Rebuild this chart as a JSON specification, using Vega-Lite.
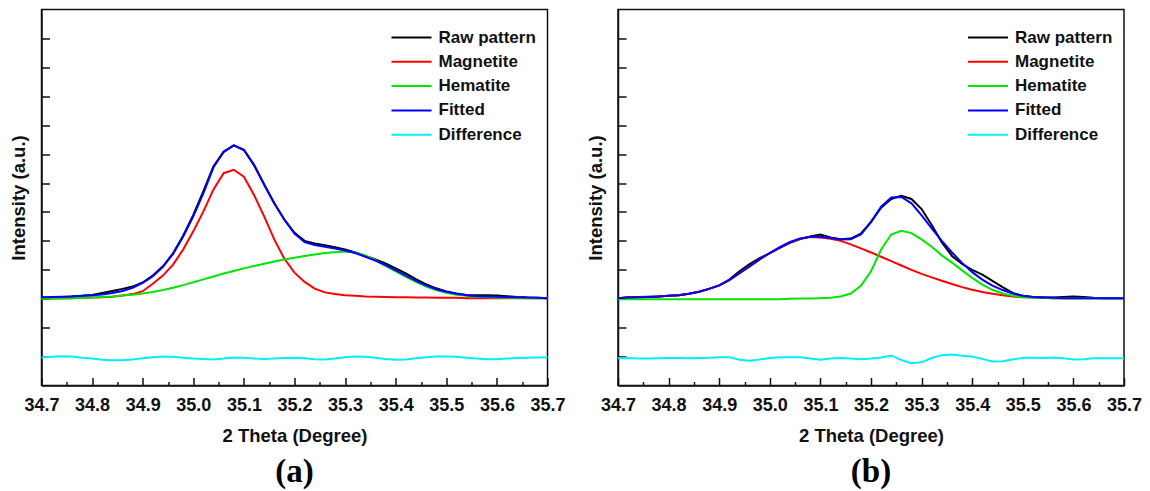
{
  "$schema": "https://vega.github.io/schema/vega-lite/v6.json",
  "background": "white",
  "padding": {"left": 8.5, "top": 8.5, "right": 0, "bottom": 0},
  "config": {
    "font": "Liberation Sans",
    "view": {"stroke": "#111111", "strokeWidth": 1.5},
    "axis": {"domainColor": "#111111", "domainWidth": 1.5, "tickColor": "#111111", "tickWidth": 1.5, "grid": false,
      "labelFont": "Liberation Sans", "labelFontWeight": "bold", "labelFontSize": 18, "labelColor": "#111111",
      "titleFont": "Liberation Sans", "titleFontWeight": "bold", "titleFontSize": 18.5, "titleColor": "#111111"},
    "legend": {"orient": "none", "legendX": 349, "legendY": 18, "symbolType": "stroke", "symbolSize": 1600, "symbolStrokeWidth": 2,
      "clipHeight": 20, "rowPadding": 4.3, "labelFont": "Liberation Sans", "labelFontSize": 17, "labelFontWeight": "bold",
      "labelColor": "#111111", "labelOffset": 6, "padding": 0},
    "line": {"strokeWidth": 2}
  },
  "datasets": {
    "a": [
      {"x":34.70,"Raw pattern":3.03,"Magnetite":3.01,"Hematite":3.00,"Fitted":3.05,"Difference":0.97},
      {"x":34.72,"Raw pattern":3.04,"Magnetite":3.01,"Hematite":3.01,"Fitted":3.06,"Difference":0.99},
      {"x":34.74,"Raw pattern":3.06,"Magnetite":3.02,"Hematite":3.01,"Fitted":3.07,"Difference":1.01},
      {"x":34.76,"Raw pattern":3.08,"Magnetite":3.02,"Hematite":3.02,"Fitted":3.08,"Difference":1.00},
      {"x":34.78,"Raw pattern":3.10,"Magnetite":3.03,"Hematite":3.03,"Fitted":3.10,"Difference":0.96},
      {"x":34.80,"Raw pattern":3.13,"Magnetite":3.04,"Hematite":3.04,"Fitted":3.12,"Difference":0.93},
      {"x":34.82,"Raw pattern":3.20,"Magnetite":3.05,"Hematite":3.06,"Fitted":3.15,"Difference":0.89},
      {"x":34.84,"Raw pattern":3.27,"Magnetite":3.07,"Hematite":3.08,"Fitted":3.20,"Difference":0.87},
      {"x":34.86,"Raw pattern":3.34,"Magnetite":3.11,"Hematite":3.11,"Fitted":3.27,"Difference":0.87},
      {"x":34.88,"Raw pattern":3.42,"Magnetite":3.16,"Hematite":3.14,"Fitted":3.38,"Difference":0.90},
      {"x":34.90,"Raw pattern":3.56,"Magnetite":3.26,"Hematite":3.18,"Fitted":3.55,"Difference":0.94},
      {"x":34.92,"Raw pattern":3.80,"Magnetite":3.52,"Hematite":3.23,"Fitted":3.78,"Difference":0.98},
      {"x":34.94,"Raw pattern":4.12,"Magnetite":3.80,"Hematite":3.30,"Fitted":4.10,"Difference":1.00},
      {"x":34.96,"Raw pattern":4.57,"Magnetite":4.18,"Hematite":3.38,"Fitted":4.55,"Difference":0.99},
      {"x":34.98,"Raw pattern":5.18,"Magnetite":4.70,"Hematite":3.47,"Fitted":5.15,"Difference":0.96},
      {"x":35.00,"Raw pattern":5.90,"Magnetite":5.33,"Hematite":3.57,"Fitted":5.85,"Difference":0.93},
      {"x":35.02,"Raw pattern":6.72,"Magnetite":6.02,"Hematite":3.67,"Fitted":6.65,"Difference":0.92},
      {"x":35.04,"Raw pattern":7.58,"Magnetite":6.78,"Hematite":3.77,"Fitted":7.55,"Difference":0.90},
      {"x":35.06,"Raw pattern":8.08,"Magnetite":7.34,"Hematite":3.87,"Fitted":8.08,"Difference":0.93},
      {"x":35.08,"Raw pattern":8.30,"Magnetite":7.46,"Hematite":3.96,"Fitted":8.30,"Difference":0.97},
      {"x":35.10,"Raw pattern":8.14,"Magnetite":7.22,"Hematite":4.05,"Fitted":8.15,"Difference":0.96},
      {"x":35.12,"Raw pattern":7.62,"Magnetite":6.59,"Hematite":4.13,"Fitted":7.63,"Difference":0.93},
      {"x":35.14,"Raw pattern":6.95,"Magnetite":5.85,"Hematite":4.21,"Fitted":6.95,"Difference":0.92},
      {"x":35.16,"Raw pattern":6.30,"Magnetite":5.05,"Hematite":4.29,"Fitted":6.30,"Difference":0.93},
      {"x":35.18,"Raw pattern":5.74,"Magnetite":4.38,"Hematite":4.36,"Fitted":5.73,"Difference":0.95},
      {"x":35.20,"Raw pattern":5.28,"Magnetite":3.90,"Hematite":4.42,"Fitted":5.25,"Difference":0.96},
      {"x":35.22,"Raw pattern":5.00,"Magnetite":3.58,"Hematite":4.48,"Fitted":4.96,"Difference":0.94},
      {"x":35.24,"Raw pattern":4.91,"Magnetite":3.35,"Hematite":4.53,"Fitted":4.86,"Difference":0.91},
      {"x":35.26,"Raw pattern":4.85,"Magnetite":3.22,"Hematite":4.58,"Fitted":4.80,"Difference":0.90},
      {"x":35.28,"Raw pattern":4.78,"Magnetite":3.16,"Hematite":4.61,"Fitted":4.74,"Difference":0.93},
      {"x":35.30,"Raw pattern":4.70,"Magnetite":3.12,"Hematite":4.63,"Fitted":4.67,"Difference":0.98},
      {"x":35.32,"Raw pattern":4.60,"Magnetite":3.10,"Hematite":4.60,"Fitted":4.58,"Difference":1.00},
      {"x":35.34,"Raw pattern":4.48,"Magnetite":3.08,"Hematite":4.50,"Fitted":4.45,"Difference":0.99},
      {"x":35.36,"Raw pattern":4.36,"Magnetite":3.07,"Hematite":4.33,"Fitted":4.32,"Difference":0.96},
      {"x":35.38,"Raw pattern":4.22,"Magnetite":3.06,"Hematite":4.14,"Fitted":4.16,"Difference":0.92},
      {"x":35.40,"Raw pattern":4.05,"Magnetite":3.05,"Hematite":3.95,"Fitted":3.98,"Difference":0.89},
      {"x":35.42,"Raw pattern":3.88,"Magnetite":3.05,"Hematite":3.76,"Fitted":3.80,"Difference":0.90},
      {"x":35.44,"Raw pattern":3.68,"Magnetite":3.04,"Hematite":3.58,"Fitted":3.62,"Difference":0.94},
      {"x":35.46,"Raw pattern":3.50,"Magnetite":3.04,"Hematite":3.42,"Fitted":3.46,"Difference":0.98},
      {"x":35.48,"Raw pattern":3.36,"Magnetite":3.03,"Hematite":3.30,"Fitted":3.33,"Difference":1.00},
      {"x":35.50,"Raw pattern":3.25,"Magnetite":3.03,"Hematite":3.21,"Fitted":3.24,"Difference":1.00},
      {"x":35.52,"Raw pattern":3.18,"Magnetite":3.03,"Hematite":3.14,"Fitted":3.17,"Difference":0.99},
      {"x":35.54,"Raw pattern":3.13,"Magnetite":3.02,"Hematite":3.10,"Fitted":3.12,"Difference":0.96},
      {"x":35.56,"Raw pattern":3.12,"Magnetite":3.02,"Hematite":3.07,"Fitted":3.09,"Difference":0.93},
      {"x":35.58,"Raw pattern":3.12,"Magnetite":3.02,"Hematite":3.05,"Fitted":3.08,"Difference":0.91},
      {"x":35.60,"Raw pattern":3.11,"Magnetite":3.02,"Hematite":3.04,"Fitted":3.07,"Difference":0.91},
      {"x":35.62,"Raw pattern":3.09,"Magnetite":3.02,"Hematite":3.03,"Fitted":3.06,"Difference":0.93},
      {"x":35.64,"Raw pattern":3.06,"Magnetite":3.02,"Hematite":3.03,"Fitted":3.05,"Difference":0.95},
      {"x":35.66,"Raw pattern":3.04,"Magnetite":3.02,"Hematite":3.02,"Fitted":3.04,"Difference":0.96},
      {"x":35.68,"Raw pattern":3.03,"Magnetite":3.02,"Hematite":3.02,"Fitted":3.03,"Difference":0.97},
      {"x":35.70,"Raw pattern":3.02,"Magnetite":3.02,"Hematite":3.02,"Fitted":3.02,"Difference":0.98}
    ],
    "b": [
      {"x":34.70,"Raw pattern":3.02,"Magnetite":3.02,"Hematite":2.98,"Fitted":3.02,"Difference":0.94},
      {"x":34.72,"Raw pattern":3.05,"Magnetite":3.04,"Hematite":2.98,"Fitted":3.04,"Difference":0.95},
      {"x":34.74,"Raw pattern":3.06,"Magnetite":3.05,"Hematite":2.98,"Fitted":3.05,"Difference":0.93},
      {"x":34.76,"Raw pattern":3.07,"Magnetite":3.06,"Hematite":2.98,"Fitted":3.06,"Difference":0.93},
      {"x":34.78,"Raw pattern":3.08,"Magnetite":3.08,"Hematite":2.98,"Fitted":3.08,"Difference":0.94},
      {"x":34.80,"Raw pattern":3.10,"Magnetite":3.10,"Hematite":2.98,"Fitted":3.10,"Difference":0.95},
      {"x":34.82,"Raw pattern":3.12,"Magnetite":3.12,"Hematite":2.98,"Fitted":3.12,"Difference":0.95},
      {"x":34.84,"Raw pattern":3.17,"Magnetite":3.17,"Hematite":2.98,"Fitted":3.17,"Difference":0.94},
      {"x":34.86,"Raw pattern":3.24,"Magnetite":3.24,"Hematite":2.98,"Fitted":3.24,"Difference":0.95},
      {"x":34.88,"Raw pattern":3.34,"Magnetite":3.34,"Hematite":2.98,"Fitted":3.34,"Difference":0.96},
      {"x":34.90,"Raw pattern":3.46,"Magnetite":3.46,"Hematite":2.98,"Fitted":3.46,"Difference":0.98},
      {"x":34.92,"Raw pattern":3.66,"Magnetite":3.64,"Hematite":2.98,"Fitted":3.64,"Difference":0.98},
      {"x":34.94,"Raw pattern":3.95,"Magnetite":3.88,"Hematite":2.98,"Fitted":3.88,"Difference":0.89},
      {"x":34.96,"Raw pattern":4.20,"Magnetite":4.12,"Hematite":2.98,"Fitted":4.12,"Difference":0.86},
      {"x":34.98,"Raw pattern":4.40,"Magnetite":4.36,"Hematite":2.98,"Fitted":4.36,"Difference":0.90},
      {"x":35.00,"Raw pattern":4.58,"Magnetite":4.58,"Hematite":2.98,"Fitted":4.58,"Difference":0.95},
      {"x":35.02,"Raw pattern":4.76,"Magnetite":4.78,"Hematite":2.98,"Fitted":4.78,"Difference":0.98},
      {"x":35.04,"Raw pattern":4.93,"Magnetite":4.95,"Hematite":3.00,"Fitted":4.96,"Difference":0.98},
      {"x":35.06,"Raw pattern":5.06,"Magnetite":5.07,"Hematite":3.01,"Fitted":5.08,"Difference":0.98},
      {"x":35.08,"Raw pattern":5.15,"Magnetite":5.13,"Hematite":3.01,"Fitted":5.14,"Difference":0.93},
      {"x":35.10,"Raw pattern":5.22,"Magnetite":5.12,"Hematite":3.02,"Fitted":5.14,"Difference":0.89},
      {"x":35.12,"Raw pattern":5.12,"Magnetite":5.07,"Hematite":3.03,"Fitted":5.10,"Difference":0.93},
      {"x":35.14,"Raw pattern":5.06,"Magnetite":5.00,"Hematite":3.08,"Fitted":5.05,"Difference":0.95},
      {"x":35.16,"Raw pattern":5.08,"Magnetite":4.88,"Hematite":3.18,"Fitted":5.06,"Difference":0.93},
      {"x":35.18,"Raw pattern":5.25,"Magnetite":4.74,"Hematite":3.45,"Fitted":5.22,"Difference":0.91},
      {"x":35.20,"Raw pattern":5.66,"Magnetite":4.60,"Hematite":3.95,"Fitted":5.65,"Difference":0.93},
      {"x":35.22,"Raw pattern":6.15,"Magnetite":4.45,"Hematite":4.70,"Fitted":6.18,"Difference":0.97},
      {"x":35.24,"Raw pattern":6.45,"Magnetite":4.30,"Hematite":5.22,"Fitted":6.50,"Difference":1.04},
      {"x":35.26,"Raw pattern":6.56,"Magnetite":4.15,"Hematite":5.35,"Fitted":6.52,"Difference":0.88},
      {"x":35.28,"Raw pattern":6.45,"Magnetite":4.00,"Hematite":5.27,"Fitted":6.30,"Difference":0.77},
      {"x":35.30,"Raw pattern":6.10,"Magnetite":3.86,"Hematite":5.05,"Fitted":5.88,"Difference":0.80},
      {"x":35.32,"Raw pattern":5.55,"Magnetite":3.74,"Hematite":4.80,"Fitted":5.43,"Difference":0.95},
      {"x":35.34,"Raw pattern":4.95,"Magnetite":3.62,"Hematite":4.50,"Fitted":5.00,"Difference":1.05},
      {"x":35.36,"Raw pattern":4.48,"Magnetite":3.51,"Hematite":4.25,"Fitted":4.60,"Difference":1.07},
      {"x":35.38,"Raw pattern":4.20,"Magnetite":3.40,"Hematite":3.98,"Fitted":4.24,"Difference":1.03},
      {"x":35.40,"Raw pattern":4.00,"Magnetite":3.31,"Hematite":3.72,"Fitted":3.92,"Difference":1.00},
      {"x":35.42,"Raw pattern":3.83,"Magnetite":3.23,"Hematite":3.49,"Fitted":3.66,"Difference":0.92},
      {"x":35.44,"Raw pattern":3.62,"Magnetite":3.17,"Hematite":3.31,"Fitted":3.45,"Difference":0.83},
      {"x":35.46,"Raw pattern":3.40,"Magnetite":3.12,"Hematite":3.18,"Fitted":3.30,"Difference":0.84},
      {"x":35.48,"Raw pattern":3.20,"Magnetite":3.08,"Hematite":3.10,"Fitted":3.18,"Difference":0.90},
      {"x":35.50,"Raw pattern":3.10,"Magnetite":3.05,"Hematite":3.06,"Fitted":3.10,"Difference":0.96},
      {"x":35.52,"Raw pattern":3.06,"Magnetite":3.04,"Hematite":3.04,"Fitted":3.06,"Difference":0.96},
      {"x":35.54,"Raw pattern":3.05,"Magnetite":3.03,"Hematite":3.03,"Fitted":3.04,"Difference":0.95},
      {"x":35.56,"Raw pattern":3.04,"Magnetite":3.02,"Hematite":3.02,"Fitted":3.03,"Difference":0.97},
      {"x":35.58,"Raw pattern":3.06,"Magnetite":3.02,"Hematite":3.02,"Fitted":3.02,"Difference":0.94},
      {"x":35.60,"Raw pattern":3.08,"Magnetite":3.02,"Hematite":3.02,"Fitted":3.02,"Difference":0.90},
      {"x":35.62,"Raw pattern":3.06,"Magnetite":3.02,"Hematite":3.02,"Fitted":3.02,"Difference":0.91},
      {"x":35.64,"Raw pattern":3.03,"Magnetite":3.02,"Hematite":3.02,"Fitted":3.02,"Difference":0.94},
      {"x":35.66,"Raw pattern":3.02,"Magnetite":3.02,"Hematite":3.02,"Fitted":3.02,"Difference":0.94},
      {"x":35.68,"Raw pattern":3.02,"Magnetite":3.02,"Hematite":3.02,"Fitted":3.02,"Difference":0.94},
      {"x":35.70,"Raw pattern":3.02,"Magnetite":3.02,"Hematite":3.02,"Fitted":3.02,"Difference":0.94}
    ]
  },
  "hconcat": [
    {
      "width": 506, "height": 376,
      "data": {"name": "a"},
      "title": {"text": "(a)", "orient": "bottom", "frame": "group", "anchor": "middle", "font": "Liberation Serif", "fontSize": 33, "fontWeight": "bold", "color": "#000000", "offset": 11},
      "transform": [{"fold": ["Raw pattern", "Magnetite", "Hematite", "Fitted", "Difference"], "as": ["series", "intensity"]}],
      "mark": {"type": "line", "strokeWidth": 2},
      "encoding": {
        "x": {"field": "x", "type": "quantitative", "scale": {"domain": [34.7, 35.7], "nice": false, "zero": false},
          "axis": {"title": "2 Theta (Degree)", "values": [34.7,34.75,34.8,34.85,34.9,34.95,35.0,35.05,35.1,35.15,35.2,35.25,35.3,35.35,35.4,35.45,35.5,35.55,35.6,35.65,35.7],
            "labelExpr": "round(datum.value*100) % 10 == 0 ? format(datum.value, '.1f') : ''",
            "tickSize": {"condition": {"test": "round(datum.value*100) % 10 == 0", "value": -8}, "value": -4},
            "labelPadding": 18.5, "labelOverlap": false, "labelFlush": false, "titlePadding": 8.5}},
        "y": {"field": "intensity", "type": "quantitative", "scale": {"domain": [0, 13], "nice": false, "zero": false},
          "axis": {"title": "Intensity (a.u.)", "values": [1,2,3,4,5,6,7,8,9,10,11,12], "labels": false, "tickSize": -8, "titlePadding": 12}},
        "color": {"field": "series", "type": "nominal",
          "scale": {"domain": ["Raw pattern", "Magnetite", "Hematite", "Fitted", "Difference"], "range": ["#000000", "#ff0000", "#00e600", "#0000ff", "#00eeff"]},
          "legend": {"title": null}}
      }
    },
    {
      "width": 506, "height": 376,
      "data": {"name": "b"},
      "title": {"text": "(b)", "orient": "bottom", "frame": "group", "anchor": "middle", "font": "Liberation Serif", "fontSize": 33, "fontWeight": "bold", "color": "#000000", "offset": 11},
      "transform": [{"fold": ["Raw pattern", "Magnetite", "Hematite", "Fitted", "Difference"], "as": ["series", "intensity"]}],
      "mark": {"type": "line", "strokeWidth": 2},
      "encoding": {
        "x": {"field": "x", "type": "quantitative", "scale": {"domain": [34.7, 35.7], "nice": false, "zero": false},
          "axis": {"title": "2 Theta (Degree)", "values": [34.7,34.75,34.8,34.85,34.9,34.95,35.0,35.05,35.1,35.15,35.2,35.25,35.3,35.35,35.4,35.45,35.5,35.55,35.6,35.65,35.7],
            "labelExpr": "round(datum.value*100) % 10 == 0 ? format(datum.value, '.1f') : ''",
            "tickSize": {"condition": {"test": "round(datum.value*100) % 10 == 0", "value": -8}, "value": -4},
            "labelPadding": 18.5, "labelOverlap": false, "labelFlush": false, "titlePadding": 8.5}},
        "y": {"field": "intensity", "type": "quantitative", "scale": {"domain": [0, 13], "nice": false, "zero": false},
          "axis": {"title": "Intensity (a.u.)", "values": [1,2,3,4,5,6,7,8,9,10,11,12], "labels": false, "tickSize": -8, "titlePadding": 12}},
        "color": {"field": "series", "type": "nominal",
          "scale": {"domain": ["Raw pattern", "Magnetite", "Hematite", "Fitted", "Difference"], "range": ["#000000", "#ff0000", "#00e600", "#0000ff", "#00eeff"]},
          "legend": {"title": null}}
      }
    }
  ],
  "spacing": 70.5,
  "bounds": "flush",
  "resolve": {"scale": {"color": "independent", "x": "independent", "y": "independent"}, "legend": {"color": "independent"}}
}
